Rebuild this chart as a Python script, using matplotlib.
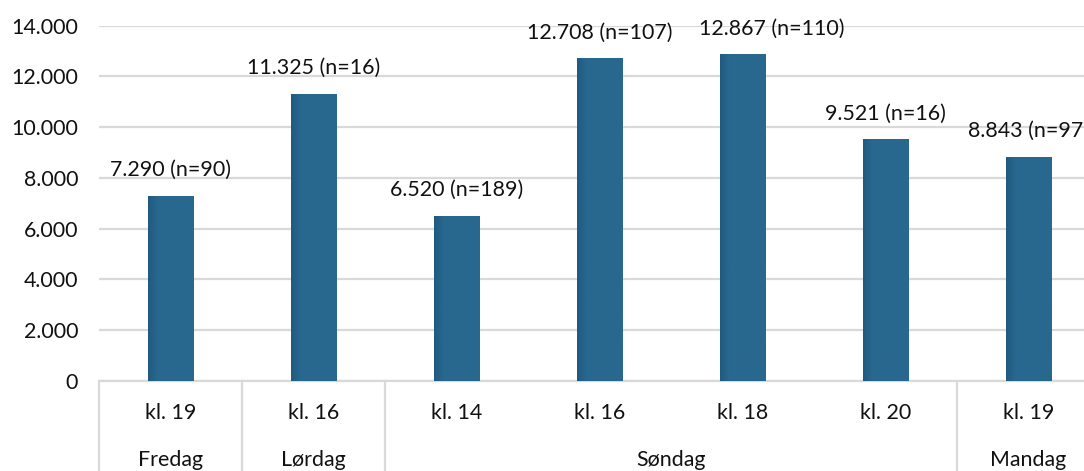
import matplotlib
matplotlib.use("Agg")
import matplotlib.pyplot as plt
import matplotlib.transforms as mtransforms
import numpy as np
from matplotlib.colors import LinearSegmentedColormap

plt.rcParams['font.family'] = ['Lato', 'DejaVu Sans']

# data
values = [7290, 11325, 6520, 12708, 12867, 9521, 8843]
counts = [90, 16, 189, 107, 110, 16, 97]
times = ["kl. 19", "kl. 16", "kl. 14", "kl. 16", "kl. 18", "kl. 20", "kl. 19"]
days = ["Fredag", "Lørdag", "Søndag", "Mandag"]
day_spans = [1, 1, 4, 1]
yticks = [0, 2000, 4000, 6000, 8000, 10000, 12000, 14000]

BAR = "#28688f"
GRID = "#d9d9d9"
FS = 15.4


def dk(v):
    return f"{v:,.0f}".replace(",", ".")


W, H = 1084, 471
fig = plt.figure(figsize=(W / 100, H / 100), dpi=100)
left, right, top, bottom = 99, 1100, 25.7, 381
ax = fig.add_axes([left / W, 1 - bottom / H, (right - left) / W, (bottom - top) / H])

x = list(range(len(values)))
bars = ax.bar(x, values, width=0.315, color=BAR, edgecolor="#6f9cbd", linewidth=0.6, zorder=3)

# faint darker shading along the left edge of each bar, like the Excel bevel
shade = LinearSegmentedColormap.from_list("shade", [(0, "#215a80"), (0.2, BAR), (1, BAR)])
grad = np.linspace(0, 1, 64).reshape(1, -1)
for b in bars:
    x0, w, h = b.get_x(), b.get_width(), b.get_height()
    im = ax.imshow(grad, cmap=shade, aspect="auto", extent=(x0, x0 + w, 0, h), zorder=3.5,
                   interpolation="bilinear")
    im.set_clip_path(b)

# Excel nudged the 12.867 label to the right so it clears its neighbour
label_dx = {4: 29}
for xi, v, n in zip(x, values, counts):
    ax.annotate(f"{dk(v)} (n={n})", (xi, v), xytext=(label_dx.get(xi, 0), 26), textcoords="offset pixels",
                ha="center", va="center", fontsize=FS, color="#111111", annotation_clip=False)

ax.set_xlim(-0.5, len(values) - 0.5)
ax.set_ylim(0, 14000)
ax.set_yticks(yticks)
ax.set_yticklabels([dk(t) for t in yticks], fontsize=FS, color="#111111")
ax.tick_params(axis="y", which="both", length=0, width=0, pad=15)
ax.set_xticks([])
ax.yaxis.grid(True, color=GRID, linewidth=1.6, zorder=0)
ax.set_axisbelow(True)
for s in ["left", "right", "top"]:
    ax.spines[s].set_visible(False)
ax.spines["bottom"].set_color(GRID)
ax.spines["bottom"].set_linewidth(1.6)

# multi-level category axis drawn below the plot
trans = mtransforms.blended_transform_factory(ax.transData, ax.transAxes)
fig_bottom = -(H - bottom) / (bottom - top)
row1 = -(413 - bottom) / (bottom - top)
row2 = -(460 - bottom) / (bottom - top)
for xi, t in zip(x, times):
    ax.text(xi, row1, t, transform=trans, ha="center", va="center", fontsize=FS, color="#111111")

pos = -0.5
ax.plot([pos, pos], [0, fig_bottom], transform=trans, color=GRID, linewidth=1.6, clip_on=False)
for d, span in zip(days, day_spans):
    ax.text(pos + span / 2, row2, d, transform=trans, ha="center", va="center", fontsize=FS, color="#111111")
    pos += span
    ax.plot([pos, pos], [0, fig_bottom], transform=trans, color=GRID, linewidth=1.6, clip_on=False)

fig.savefig("out.png", dpi=100)
